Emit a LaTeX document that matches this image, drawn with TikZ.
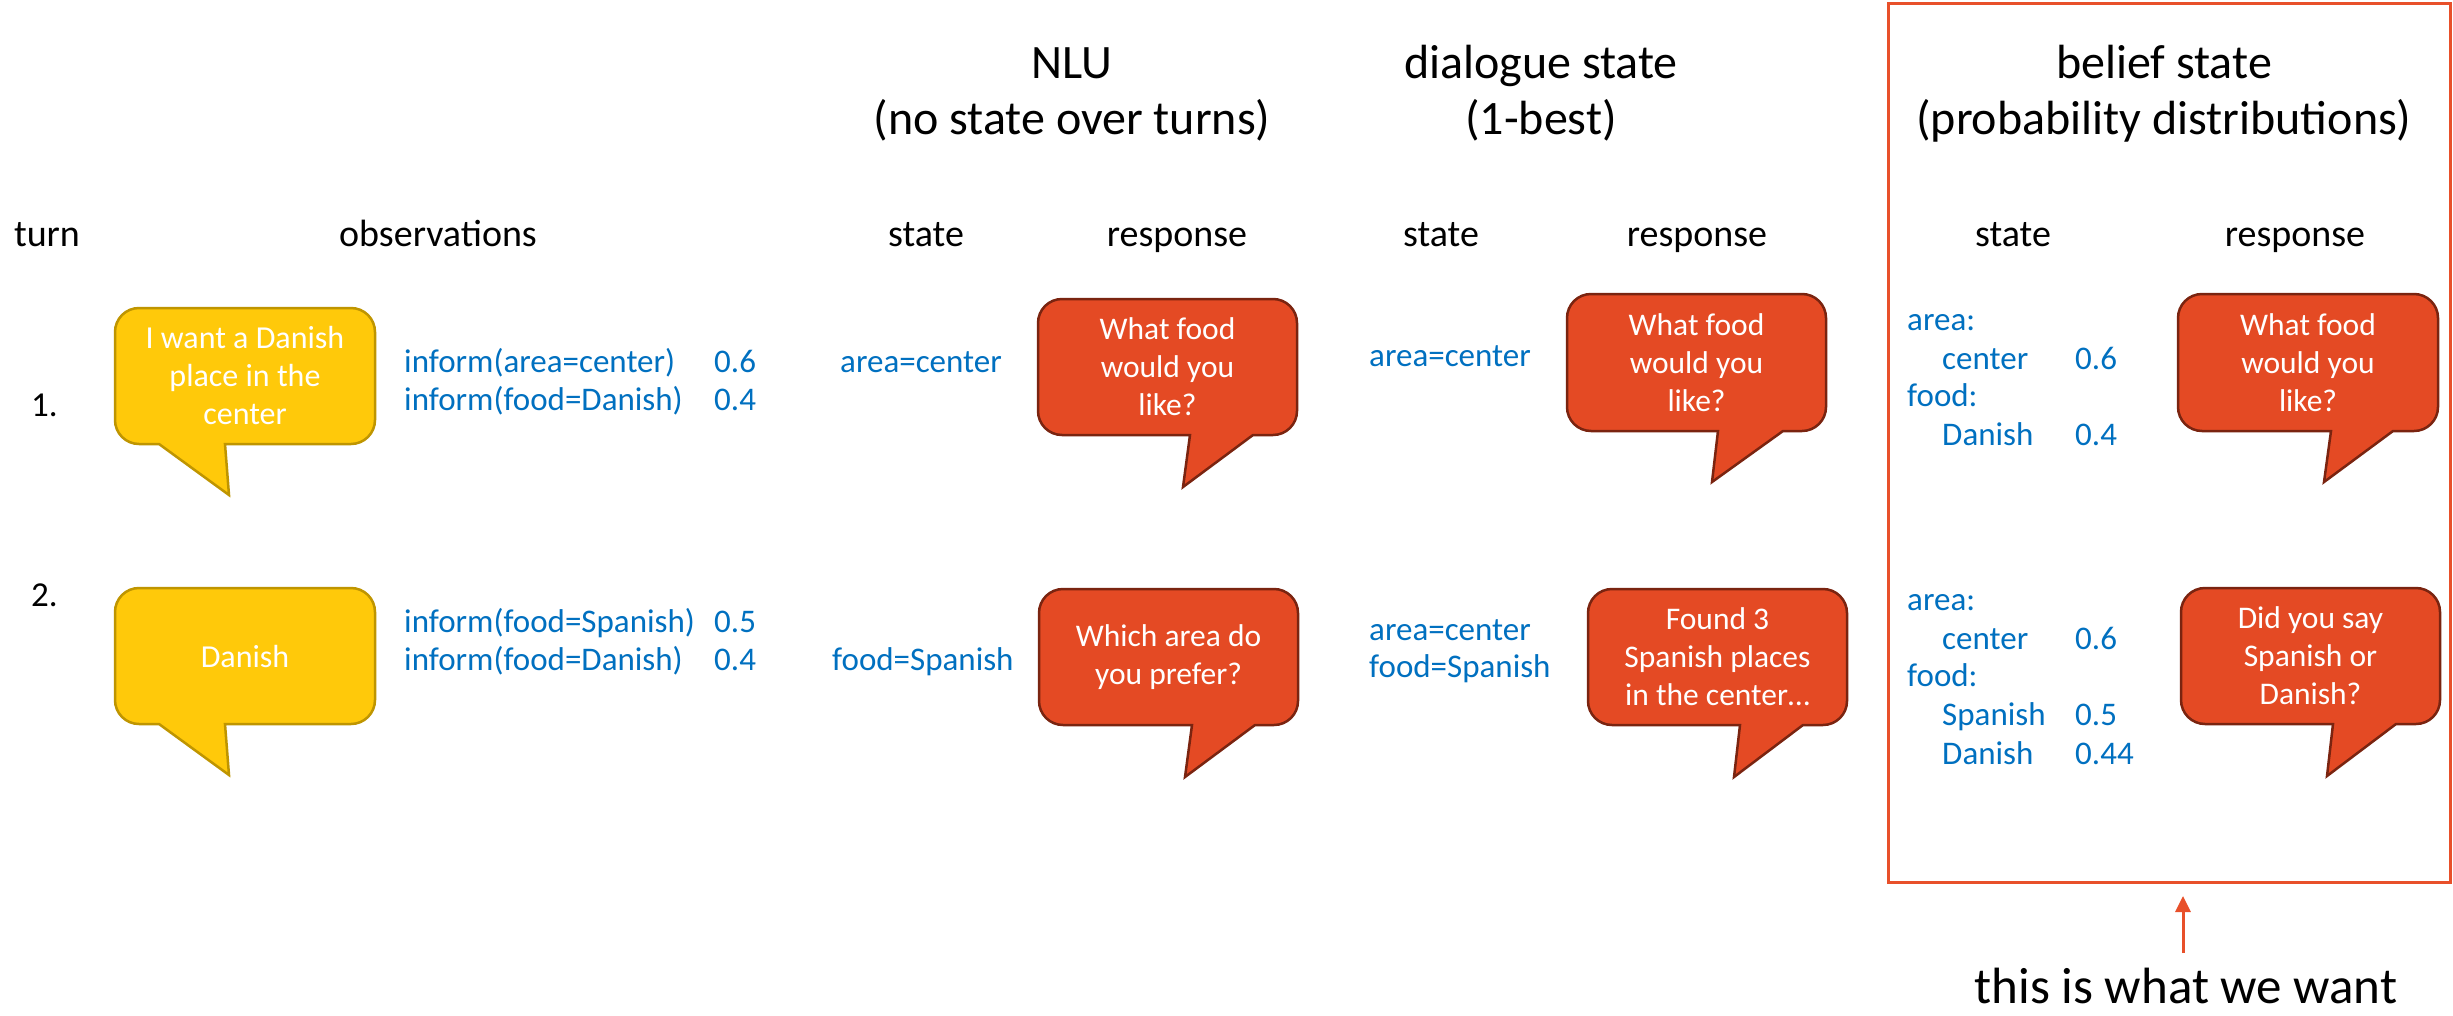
\documentclass[tikz,border=0pt]{standalone}
\usepackage{fontspec}
\setmainfont{Carlito}
\usetikzlibrary{arrows.meta}
\definecolor{ublue}{HTML}{0070C0}
\definecolor{yfill}{HTML}{FFC90A}
\definecolor{ydraw}{HTML}{BF9500}
\definecolor{rfill}{HTML}{E44A24}
\definecolor{rdraw}{HTML}{7A2410}
\definecolor{hl}{HTML}{E8502A}
% #1 style, #2 L, #3 T, #4 R, #5 B, #6 tail base right, #7 tip x, #8 tip y, #9 tail base left
\newcommand\speechbub[9]{%
  \draw[#1] ({#2+24},{-#3}) -- ({#4-24},{-#3})
    arc[start angle=90,end angle=0,radius=24pt] -- ({#4},{-#5+24})
    arc[start angle=0,end angle=-90,radius=24pt] -- ({#6},{-#5})
    -- ({#7},{-#8}) -- ({#9},{-#5}) -- ({#2+24},{-#5})
    arc[start angle=270,end angle=180,radius=24pt] -- ({#2},{-#3-24})
    arc[start angle=180,end angle=90,radius=24pt] -- cycle;}
\tikzset{
  hdr/.style={anchor=base, font=\fontsize{48}{56}\selectfont, inner sep=0pt},
  colhdr/.style={anchor=base, font=\fontsize{38}{44}\selectfont, inner sep=0pt},
  bl/.style={anchor=base west, text=ublue, font=\fontsize{33}{38}\selectfont, inner sep=0pt},
  bubY/.style={fill=yfill, draw=ydraw, line width=2.5pt, line join=miter},
  bubR/.style={fill=rfill, draw=rdraw, line width=2.5pt, line join=miter},
  ytext/.style={text=white, align=center, font=\fontsize{32}{38}\selectfont, inner sep=0pt},
  rtext/.style={text=white, align=center, font=\fontsize{31.5}{38}\selectfont, inner sep=0pt},
}
\begin{document}
\begin{tikzpicture}[x=1pt,y=1pt]
\useasboundingbox (0,0) rectangle (2453,-1015);
\fill[white] (0,0) rectangle (2453,-1015);

% headers
\node[hdr] (nlu1) at (1072,-78) {NLU};
\node[hdr] (nlu2) at (1072,-134) {(no state over turns)};
\node[hdr] (ds1) at (1541,-78) {dialogue state};
\node[hdr] (ds2) at (1541,-134) {(1-best)};
\node[hdr] (bs1) at (2164,-78) {belief state};
\node[hdr] (bs2) at (2164,-134) {(probability distributions)};

% column headers
\node[colhdr] (hturn) at (47,-246) {turn};
\node[colhdr] (hobs) at (438,-246) {observations};
\node[colhdr] (hns) at (926,-246) {state};
\node[colhdr] (hnr) at (1177,-246) {response};
\node[colhdr] (hds) at (1441,-246) {state};
\node[colhdr] (hdr) at (1697,-246) {response};
\node[colhdr] (hbs) at (2013,-246) {state};
\node[colhdr] (hbr) at (2295,-246) {response};

% turn numbers
\node[anchor=base west, font=\fontsize{35}{40}\selectfont, inner sep=0pt] (t1) at (31,-416) {1.};
\node[anchor=base west, font=\fontsize{35}{40}\selectfont, inner sep=0pt] (t2) at (31,-606) {2.};

% user bubbles
\speechbub{bubY}{115}{308}{375}{444}{225}{229}{495}{159}
\node[ytext] (y1) at (245,-376) {I want a Danish\\place in the\\center};
\speechbub{bubY}{115}{588}{375}{724}{225}{229}{775}{159}
\node[ytext] (y2) at (245,-656) {Danish};

% observations
\node[bl] (o11) at (404,-372) {inform(area=center)};
\node[bl] (o11p) at (714,-372) {0.6};
\node[bl] (o12) at (404,-410) {inform(food=Danish)};
\node[bl] (o12p) at (714,-410) {0.4};
\node[bl] (o21) at (404,-632) {inform(food=Spanish)};
\node[bl] (o21p) at (714,-632) {0.5};
\node[bl] (o22) at (404,-670) {inform(food=Danish)};
\node[bl] (o22p) at (714,-670) {0.4};

% NLU
\node[bl] (ns1) at (840,-372) {area=center};
\node[bl] (ns2) at (832,-670) {food=Spanish};
\speechbub{bubR}{1038}{299}{1297}{435}{1253}{1183}{487}{1190}
\node[rtext] (nr1) at (1167.5,-367) {What food\\would you\\like?};
\speechbub{bubR}{1039}{589}{1298}{725}{1255}{1185}{777}{1192}
\node[rtext] (nr2) at (1168.5,-657) {Which area do\\you prefer?};

% dialogue state
\node[bl] (ds11) at (1369,-366) {area=center};
\node[bl] (ds21) at (1369,-640) {area=center};
\node[bl] (ds22) at (1369,-677) {food=Spanish};
\speechbub{bubR}{1567}{294}{1826}{431}{1783}{1712}{482}{1718}
\node[rtext] (dr1) at (1696.5,-362.5) {What food\\would you\\like?};
\speechbub{bubR}{1588}{589}{1847}{725}{1803}{1734}{777}{1740}
\node[rtext] (dr2) at (1717.5,-657) {Found 3\\Spanish places\\in the center\dots};

% belief state
\node[bl] (b1a) at (1907,-330) {area:};
\node[bl] (b1b) at (1942,-369) {center};
\node[bl] (b1bp) at (2075,-369) {0.6};
\node[bl] (b1c) at (1907,-406) {food:};
\node[bl] (b1d) at (1942,-445) {Danish};
\node[bl] (b1dp) at (2075,-445) {0.4};
\node[bl] (b2a) at (1907,-610) {area:};
\node[bl] (b2b) at (1942,-649) {center};
\node[bl] (b2bp) at (2075,-649) {0.6};
\node[bl] (b2c) at (1907,-686) {food:};
\node[bl] (b2d) at (1942,-725) {Spanish};
\node[bl] (b2dp) at (2075,-725) {0.5};
\node[bl] (b2e) at (1942,-764) {Danish};
\node[bl] (b2ep) at (2075,-764) {0.44};
\speechbub{bubR}{2178}{294}{2438}{431}{2393}{2324}{482}{2331}
\node[rtext] (br1) at (2308,-362.5) {What food\\would you\\like?};
\speechbub{bubR}{2181}{588}{2440}{724}{2396}{2327}{776}{2333}
\node[rtext] (br2) at (2310.5,-656) {Did you say\\Spanish or\\Danish?};

% highlight box and arrow
\node[draw=hl, line width=3pt, minimum width=562pt, minimum height=879pt, inner sep=0pt] (bbox) at (2169,-442.5) {};
\coordinate (arrtail) at (2183,-953);
\coordinate (arrtip) at (2183,-896);
\draw[hl, line width=3pt, -{Triangle[width=15pt,length=16pt]}] (arrtail) -- (arrtip);
\node[anchor=base, font=\fontsize{51}{58}\selectfont, inner sep=0pt] (want) at (2186,-1003) {this is what we want};
\end{tikzpicture}
\end{document}
